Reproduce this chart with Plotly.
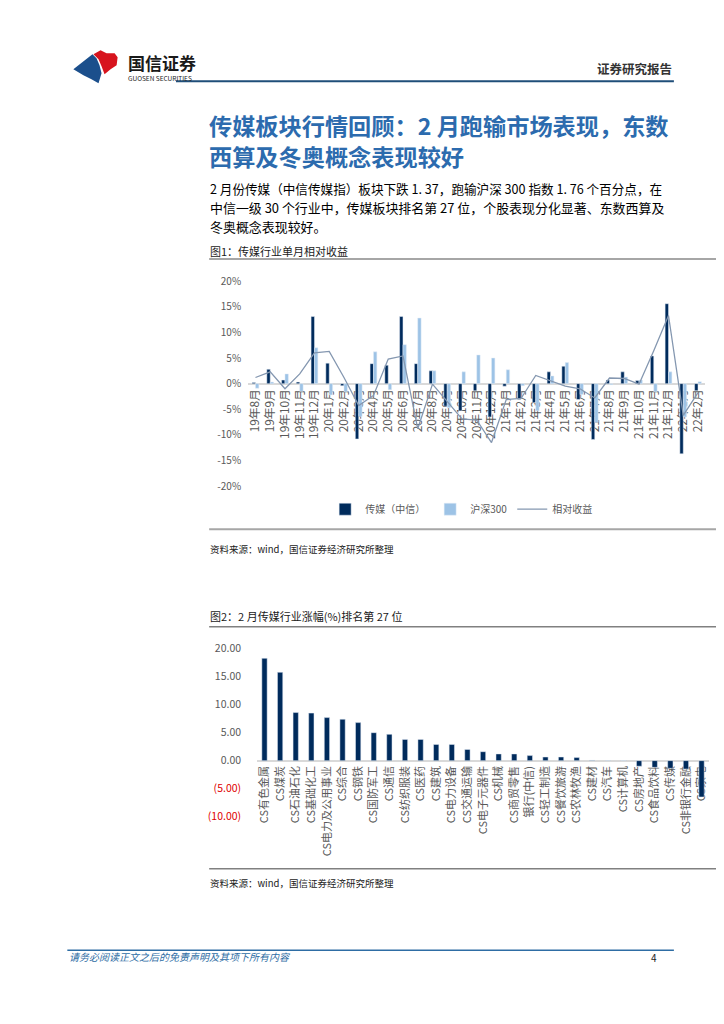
import plotly.graph_objects as go

# 图1：传媒行业单月相对收益（%）
months = ["19年8月", "19年9月", "19年10月", "19年11月", "19年12月", "20年1月", "20年2月",
          "20年3月", "20年4月", "20年5月", "20年6月", "20年7月", "20年8月", "20年9月",
          "20年10月", "20年11月", "20年12月", "21年1月", "21年2月", "21年3月", "21年4月",
          "21年5月", "21年6月", "21年7月", "21年8月", "21年9月", "21年10月", "21年11月",
          "21年12月", "22年1月", "22年2月"]
media_ret = [0.2, 2.8, 0.7, 0.3, 13.1, 4.0, -0.4, -10.8, 3.9, 3.6, 13.1, 3.9, 2.5, -4.4,
             -5.3, -1.4, -6.5, -0.5, -3.1, -3.7, 2.3, 3.4, -3.1, -10.9, 0.7, 2.3, 0.6, 5.4,
             15.6, -13.7, -1.37]
hs300_ret = [-0.9, 0.3, 1.9, -1.5, 7.0, -2.2, -1.6, -6.4, 6.2, -1.2, 7.6, 12.8, 2.5, -4.7,
             2.3, 5.6, 5.0, 2.7, -0.4, -5.3, 1.5, 4.1, -2.1, -7.6, -0.2, 1.3, 0.7, -1.6,
             2.3, -6.5, 0.39]
rel_ret = [1.2, 2.3, -1.0, 1.9, 6.0, 6.3, 1.2, -4.3, -2.3, 4.8, 5.4, -8.8, -0.1, -3.4,
           -6.9, -7.1, -11.5, -3.1, -2.9, 1.6, 0.6, -0.5, -1.0, -2.8, 1.1, 1.0, -0.1, 6.4,
           13.3, -6.2, -1.76]
pct_ticks = [-20, -15, -10, -5, 0, 5, 10, 15, 20]

# 图2：2月中信一级行业涨幅（%）
industries = ["CS有色金属", "CS煤炭", "CS石油石化", "CS基础化工", "CS电力及公用事业", "CS综合",
              "CS钢铁", "CS国防军工", "CS通信", "CS纺织服装", "CS医药", "CS建筑", "CS电力设备",
              "CS交通运输", "CS电子元器件", "CS机械", "CS商贸零售", "银行(中信)", "CS轻工制造",
              "CS餐饮旅游", "CS农林牧渔", "CS建材", "CS汽车", "CS计算机", "CS房地产",
              "CS食品饮料", "CS传媒", "CS非银行金融", "CS家电"]
ind_ret = [18.3, 15.8, 8.6, 8.5, 7.7, 7.4, 6.8, 5.0, 4.7, 3.8, 3.8, 2.9, 2.9, 2.0, 1.6, 1.2,
           1.2, 0.9, 0.65, 0.65, 0.55, 0.05, 0.03, 0.02, -1.0, -1.2, -1.37, -1.5, -6.5]
ind_ticks = [-10, -5, 0, 5, 10, 15, 20]

W, H = 724, 1024
FONT = "Noto Sans CJK SC"
NAVY = "#002B5C"
LIGHT = "#9DC3E6"
LINE = "#8497B0"
TXT = "#595959"


# page pixel -> paper fraction (small correction for how the page gets photographed)
def px(x):
    return (x - 10) / 0.99 / W


def py(y):
    return 1 - (y - 18) / 0.98 / H


y1_dom = [py(485), py(281)]
y2_dom = [py(814), py(647)]
y1_rng = [-20, 20]
y2_rng = [-10, 20]


def zero_pos(dom, rng):
    return dom[0] + (dom[1] - dom[0]) * (0 - rng[0]) / (rng[1] - rng[0])


def money(v):
    if v < 0:
        return '<span style="color:#E00000">(%.2f)</span>' % -v
    return "%.2f" % v


fig = go.Figure()
fig.add_trace(go.Bar(x=months, y=media_ret, name="传媒（中信）", marker_color=NAVY,
                     xaxis="x", yaxis="y"))
fig.add_trace(go.Bar(x=months, y=hs300_ret, name="沪深300", marker_color=LIGHT,
                     xaxis="x", yaxis="y"))
fig.add_trace(go.Scatter(x=months, y=rel_ret, name="相对收益", mode="lines",
                         line=dict(color=LINE, width=1.3), xaxis="x", yaxis="y"))
fig.add_trace(go.Bar(x=industries, y=ind_ret, marker_color=NAVY, width=0.34,
                     showlegend=False, xaxis="x2", yaxis="y2"))

fig.update_layout(
    width=W, height=H,
    margin=dict(l=0, r=0, t=0, b=0),
    paper_bgcolor="white", plot_bgcolor="white",
    font=dict(family=FONT, color="#000000"),
    barmode="group", bargap=0.54, bargroupgap=0,
    showlegend=True,
    legend=dict(orientation="h", x=px(458), xanchor="center", y=py(508), yanchor="middle",
                font=dict(family=FONT, size=10, color=TXT), itemwidth=30,
                tracegroupgap=0, bgcolor="rgba(0,0,0,0)"),
    xaxis=dict(domain=[px(245.7), px(700.3)], type="category", range=[-0.5, 30.5],
               anchor="free", position=zero_pos(y1_dom, y1_rng), layer="below traces",
               showline=True, linecolor="#D9D9D9", linewidth=1.5, ticks="",
               tickangle=-90, tickfont=dict(family=FONT, size=11.8, color=TXT),
               showgrid=False),
    yaxis=dict(domain=y1_dom, range=y1_rng, tickvals=pct_ticks,
               ticktext=["%d%%" % v for v in pct_ticks],
               showgrid=False, zeroline=False, showline=False, ticks="",
               tickfont=dict(family=FONT, size=10, color=TXT), ticklabelstandoff=6),
    xaxis2=dict(domain=[px(254.25), px(704.25)], type="category", range=[-0.5, 28.5],
                anchor="free", position=zero_pos(y2_dom, y2_rng), layer="below traces",
                showline=True, linecolor="#D9D9D9", linewidth=2, ticks="",
                tickangle=-90, tickfont=dict(family=FONT, size=11, color=TXT),
                showgrid=False),
    yaxis2=dict(domain=y2_dom, range=y2_rng, tickvals=ind_ticks,
                ticktext=[money(v) for v in ind_ticks],
                showgrid=False, zeroline=False, showline=False, ticks="",
                tickfont=dict(family=FONT, size=10.5, color=TXT), ticklabelstandoff=6),
)

# page furniture
shapes = []


def hline(y, x0, x1, color, width):
    shapes.append(dict(type="line", xref="paper", yref="paper", x0=px(x0), x1=px(x1),
                       y0=py(y), y1=py(y), line=dict(color=color, width=width)))


hline(82, 174, 669, "#1F4E79", 2)
hline(259, 207, 730, "#A6A6A6", 2)
hline(528, 207, 730, "#A6A6A6", 2)
hline(625, 207, 730, "#808080", 1.5)
hline(866, 207, 730, "#808080", 1.5)
hline(947, 66, 669, "#2E6DA4", 1.5)


def poly(points, color):
    path = "M " + " L ".join(f"{px(a):.5f},{py(b):.5f}" for a, b in points) + " Z"
    shapes.append(dict(type="path", xref="paper", yref="paper", path=path,
                       fillcolor=color, line=dict(width=0)))


poly([(72, 70), (91, 55), (95, 59), (98, 66), (100, 74), (97, 84), (90, 80), (82, 76)], "#1B4F8C")
poly([(92, 55), (99, 51), (105, 54), (113, 54), (116, 58), (115, 66), (109, 70), (103, 75),
      (100, 67), (97, 60)], "#D7141E")

fig.update_layout(shapes=shapes)

ann = []


def text(x, y, s, size, color="#000000", anchor="left", bold=False, italic=False):
    if bold:
        s = "<b>" + s + "</b>"
    if italic:
        s = "<i>" + s + "</i>"
    ann.append(dict(x=px(x), y=py(y), xref="paper", yref="paper", text=s, showarrow=False,
                    xanchor=anchor, yanchor="middle",
                    font=dict(family=FONT, size=size, color=color)))


text(124, 63, "国信证券", 17, "#1A1A1A", bold=True)
text(124, 79, "GUOSEN SECURITIES", 6.5, "#1A1A1A")
text(669, 69, "证券研究报告", 12.5, "#333333", anchor="right", bold=True)

text(205, 126, "传媒板块行情回顾：2 月跑输市场表现，东数", 23.2, "#2C6BAE", bold=True)
text(205, 156, "西算及冬奥概念表现较好", 23.2, "#2C6BAE", bold=True)

text(206, 189, "2 月份传媒（中信传媒指）板块下跌 1. 37，跑输沪深 300 指数 1. 76 个百分点，在", 12.6)
text(206, 208, "中信一级 30 个行业中，传媒板块排名第 27 位，个股表现分化显著、东数西算及", 12.95)
text(206, 227, "冬奥概念表现较好。", 12.95)

text(206, 251, "图1：传媒行业单月相对收益", 11, "#1A1A1A")
text(206, 548, "资料来源：wind，国信证券经济研究所整理", 9.5, "#1A1A1A")
text(206, 614, "图2：2 月传媒行业涨幅(%)排名第 27 位", 11, "#1A1A1A")
text(206, 880, "资料来源：wind，国信证券经济研究所整理", 9.5, "#1A1A1A")

text(66, 953, "请务必阅读正文之后的免责声明及其项下所有内容", 10, "#2E6DA4", italic=True)
text(654, 954, "4", 10, "#1A1A1A", anchor="right")

fig.update_layout(annotations=ann)

fig.write_html("out.html")
